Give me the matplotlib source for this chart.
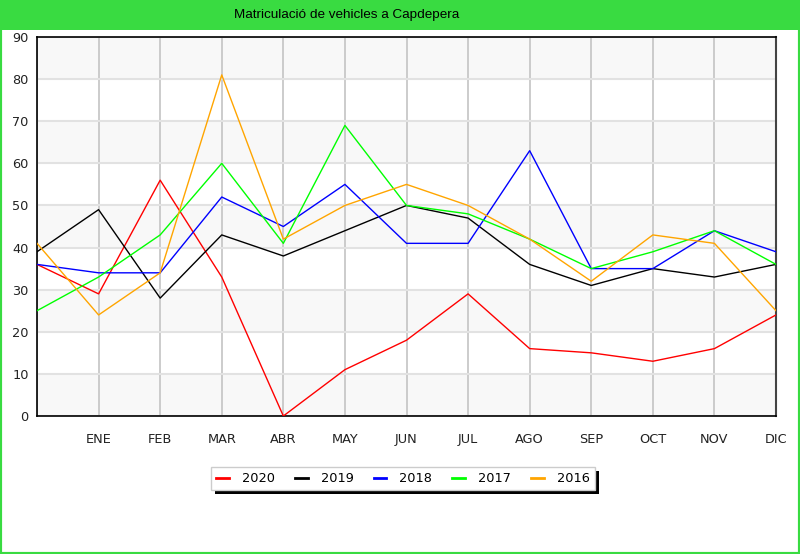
import matplotlib.pyplot as plt
from matplotlib.patches import Rectangle
import matplotlib.patheffects as pe

months = ["", "ENE", "FEB", "MAR", "ABR", "MAY", "JUN", "JUL", "AGO", "SEP", "OCT", "NOV", "DIC"]
years = ["2020", "2019", "2018", "2017", "2016"]
colors = ["#ff0000", "#000000", "#0000ff", "#00ff00", "#ffa500"]

v2020 = [36, 29, 56, 33, 0, 11, 18, 29, 16, 15, 13, 16, 24]
v2019 = [39, 49, 28, 43, 38, 44, 50, 47, 36, 31, 35, 33, 36]
v2018 = [36, 34, 34, 52, 45, 55, 41, 41, 63, 35, 35, 44, 39]
v2017 = [25, 33, 43, 60, 41, 69, 50, 48, 42, 35, 39, 44, 36]
v2016 = [41, 24, 34, 81, 42, 50, 55, 50, 42, 32, 43, 41, 25]
series = [v2020, v2019, v2018, v2017, v2016]

fig = plt.figure(figsize=(8.0, 5.54), dpi=100)
green = "#39db41"

# border and title bar
fig.patches.append(Rectangle((0, 0), 1, 1, transform=fig.transFigure,
                             fill=False, edgecolor=green, linewidth=3, zorder=0))
fig.patches.append(Rectangle((0, 1 - 30 / 554), 1, 30 / 554, transform=fig.transFigure,
                             facecolor=green, edgecolor="none", zorder=1))
fig.text(347 / 800, 1 - 15 / 554, "Matriculació de vehicles a Capdepera", ha="center", va="center",
         fontsize=9.7, family="Liberation Sans", color="black")

ax = fig.add_axes([37 / 800, 1 - 416 / 554, 739 / 800, 379 / 554])
x = list(range(len(months)))

# alternating bands
for lo in range(0, 90, 20):
    ax.axhspan(lo, lo + 10, color="#f8f8f8", zorder=0, linewidth=0)

ax.set_xlim(0, 12)
ax.set_ylim(0, 90)
ax.set_yticks(range(0, 91, 10))
ax.set_xticks(x)
ax.set_xticklabels(months)
ax.grid(axis="y", color="#e2e2e2", linewidth=1.5, zorder=1)
ax.grid(axis="x", color="#c8c8c8", linewidth=1.3, zorder=1)
ax.set_axisbelow(True)

for vals, c, lab in zip(series, colors, years):
    ax.plot(x, vals, color=c, linewidth=1.0, label=lab, zorder=3)

ax.tick_params(length=0, labelsize=9.3, colors="#222222", pad=6)
ax.tick_params(axis="x", pad=12)
for s in ["left", "bottom", "top"]:
    ax.spines[s].set_color("black")
    ax.spines[s].set_linewidth(1.2)
ax.spines["right"].set_color("#444444")
ax.spines["right"].set_linewidth(1.5)

leg = ax.legend(loc="center", bbox_to_anchor=(0.495, -0.165), ncol=5, frameon=True,
                fancybox=False, shadow=False, fontsize=9.3, handlelength=1.0,
                handletextpad=1.0, columnspacing=1.55, borderpad=0.4, framealpha=1.0)
for h in leg.get_lines():
    h.set_linewidth(2.0)
frame = leg.get_frame()
frame.set_facecolor("white")
frame.set_edgecolor("#cccccc")
frame.set_linewidth(1.0)
frame.set_path_effects([pe.SimplePatchShadow(offset=(3, -3), shadow_rgbFace="black", alpha=1.0),
                        pe.Normal()])

fig.savefig("out.png", dpi=100)
